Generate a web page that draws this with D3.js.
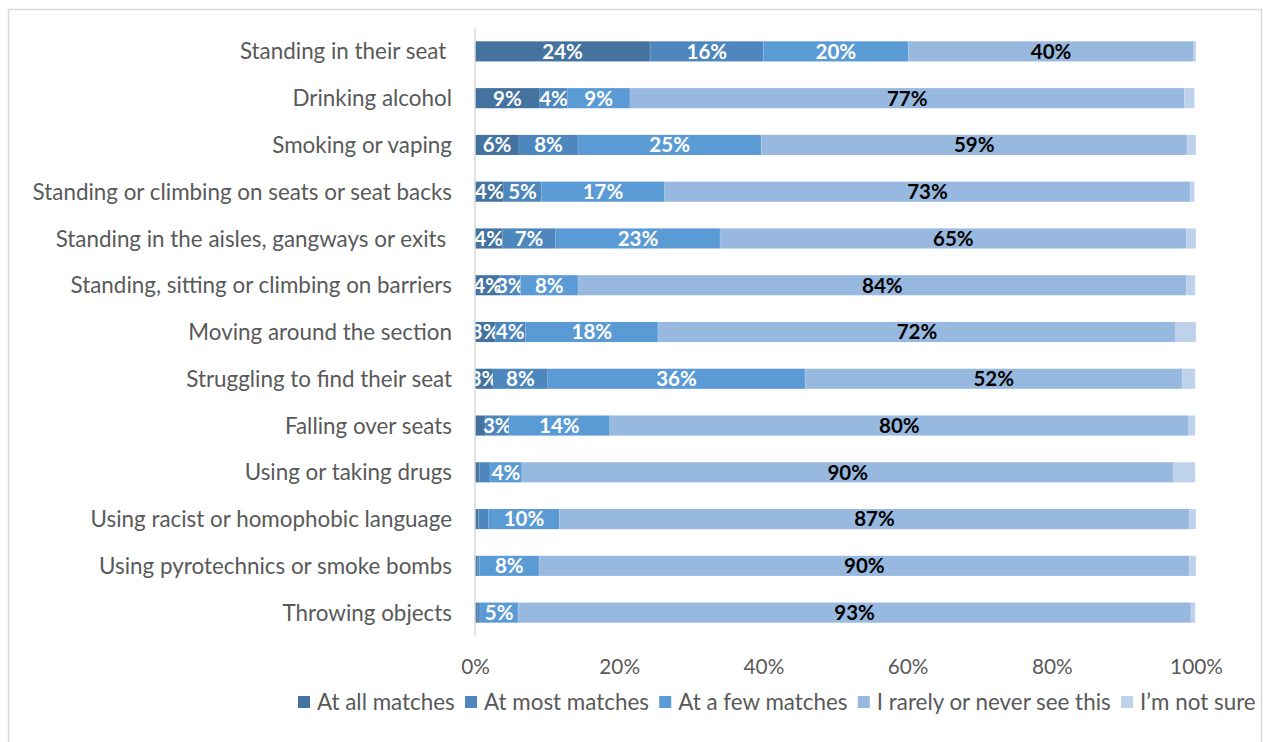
<!DOCTYPE html>
<html>
<head>
<meta charset="utf-8">
<script src="https://cdn.jsdelivr.net/npm/d3@7"></script>
<style>
  html, body { margin: 0; padding: 0; background: #fff; }
  svg { display: block; }
</style>
</head>
<body>
<svg id="chart" width="1263" height="742"></svg>
<script>
// Categories, top to bottom (trailing spaces are in the source labels)
const categories = [
  "Standing in their seat ",
  "Drinking alcohol",
  "Smoking or vaping",
  "Standing or climbing on seats or seat backs",
  "Standing in the aisles, gangways or exits ",
  "Standing, sitting or climbing on barriers",
  "Moving around the section",
  "Struggling to find their seat",
  "Falling over seats",
  "Using or taking drugs",
  "Using racist or homophobic language",
  "Using pyrotechnics or smoke bombs",
  "Throwing objects"
];

// Percent of respondents, one array per answer
const atAllMatches   = [24.3, 9.0, 6.1, 4.0, 3.8, 3.5, 2.8, 2.5, 1.5, 0.6, 0.5, 0.3, 0.3];
const atMostMatches  = [15.7, 3.8, 8.2, 5.2, 7.4, 2.8, 4.2, 7.6, 3.2, 1.5, 1.4, 0.3, 0.4];
const atAFewMatches  = [20.1, 8.7, 25.4, 17.1, 22.8, 8.0, 18.4, 35.7, 14.0, 4.4, 9.8, 8.3, 5.3];
const rarelyOrNever  = [39.6, 76.9, 59.1, 72.9, 64.7, 84.4, 71.8, 52.3, 80.3, 90.4, 87.4, 90.2, 93.3];
const notSure        = [0.3, 1.4, 1.2, 0.6, 1.3, 1.2, 2.8, 1.8, 0.9, 3.0, 0.9, 0.9, 0.6];

const seriesNames = ["At all matches", "At most matches", "At a few matches", "I rarely or never see this", "I\u2019m not sure"];
const seriesValues = [atAllMatches, atMostMatches, atAFewMatches, rarelyOrNever, notSure];
const colors = ["#44739f", "#4d87bd", "#5b9bd5", "#98b9df", "#bed2ec"];
const labelColors = ["#fff", "#fff", "#fff", "#000", null];
const xTicks = [0, 20, 40, 60, 80, 100];

const margin = { top: 28, left: 475, right: 67, bottom: 106 };
const width = 1263 - margin.left - margin.right;
const height = 742 - margin.top - margin.bottom;

const svg = d3.select("#chart");

// chart frame
svg.append("rect")
  .attr("x", 8.5)
  .attr("y", 9.5)
  .attr("width", 1253)
  .attr("height", 740)
  .attr("fill", "none")
  .attr("stroke", "#d9d9d9")
  .attr("stroke-width", 1.5);

const g = svg.append("g")
  .attr("transform", `translate(${margin.left},${margin.top})`);

const x = d3.scaleLinear().domain([0, 100]).range([0, width]);
const y = d3.scaleBand().domain(categories).range([0, height]).paddingInner(0.57).paddingOuter(0.285);

// stack the rows
const rows = categories.map((c, i) => {
  const r = { category: c };
  seriesNames.forEach((s, k) => r[s] = seriesValues[k][i]);
  return r;
});
const stacked = d3.stack().keys(seriesNames)(rows);

const layers = g.selectAll("g.layer")
  .data(stacked)
  .join("g")
  .attr("class", "layer")
  .attr("fill", (d, k) => colors[k]);

layers.selectAll("rect")
  .data(d => d)
  .join("rect")
  .attr("x", d => x(d[0]))
  .attr("y", d => y(d.data.category))
  .attr("width", d => x(d[1]) - x(d[0]))
  .attr("height", y.bandwidth());

// thin white separators like Excel's segment edges
layers.selectAll("line")
  .data(d => d)
  .join("line")
  .attr("x1", d => x(d[1]))
  .attr("x2", d => x(d[1]))
  .attr("y1", d => y(d.data.category))
  .attr("y2", d => y(d.data.category) + y.bandwidth())
  .attr("stroke", "#fff")
  .attr("stroke-opacity", 0.35)
  .attr("stroke-width", 0.75);

// data labels (small slices were left unlabelled)
layers.filter((d, k) => labelColors[k] != null)
  .selectAll("text")
  .data(d => d.filter(p => p[1] - p[0] >= 2))
  .join("text")
  .attr("x", d => (x(d[0]) + x(d[1])) / 2)
  .attr("y", d => y(d.data.category) + y.bandwidth() / 2)
  .attr("dy", "0.36em")
  .attr("text-anchor", "middle")
  .attr("fill", function () { return labelColors[stacked.indexOf(d3.select(this.parentNode).datum())]; })
  .style("font", "bold 20.5px Lato, sans-serif")
  .text(d => Math.round(d[1] - d[0]) + "%");

// vertical axis line
g.append("line")
  .attr("x1", 0).attr("x2", 0)
  .attr("y1", 0).attr("y2", height)
  .attr("stroke", "#d9d9d9")
  .attr("stroke-width", 1.5);

// category labels
g.append("g")
  .selectAll("text")
  .data(categories)
  .join("text")
  .attr("x", -23)
  .attr("y", d => y(d) + y.bandwidth() / 2)
  .attr("dy", "0.36em")
  .attr("text-anchor", "end")
  .attr("fill", "#595959")
  .attr("xml:space", "preserve")
  .style("white-space", "pre")
  .style("font", "22.4px Lato, sans-serif")
  .text(d => d);

// x axis
const xAxis = g.append("g")
  .attr("transform", `translate(0,${height})`)
  .call(d3.axisBottom(x).tickValues(xTicks).tickSize(0).tickPadding(23).tickFormat(d => d + "%"));
xAxis.select(".domain").remove();
xAxis.selectAll("text")
  .attr("fill", "#595959")
  .style("font", "20.8px Lato, sans-serif");

// legend
const legend = svg.append("g").attr("transform", "translate(298,702)");
let lx = 0;
seriesNames.forEach((s, k) => {
  const item = legend.append("g").attr("transform", `translate(${lx},0)`);
  item.append("rect")
    .attr("x", 0).attr("y", -6)
    .attr("width", 12).attr("height", 12)
    .attr("fill", colors[k]);
  const t = item.append("text")
    .attr("x", 19)
    .attr("dy", "0.36em")
    .attr("fill", "#595959")
    .style("font", "22.4px Lato, sans-serif")
    .text(s);
  lx += 19 + t.node().getComputedTextLength() + 10.3;
});
</script>
</body>
</html>
